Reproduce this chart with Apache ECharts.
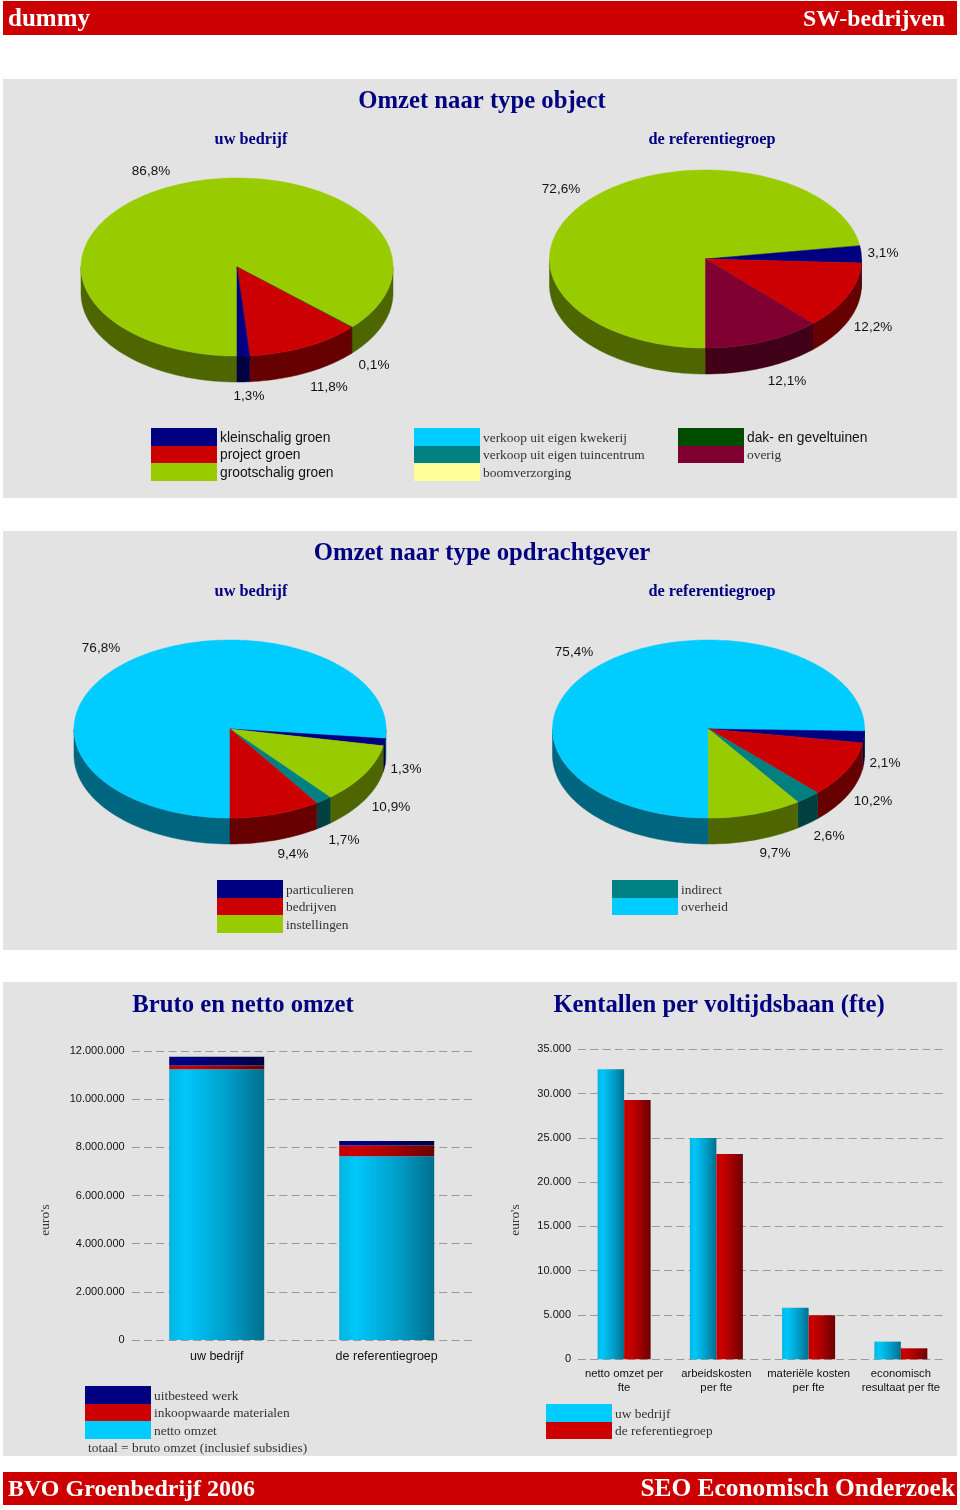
<!DOCTYPE html>
<html>
<head>
<meta charset="utf-8">
<style>html,body{margin:0;padding:0;background:#fff}#c{width:960px;height:1510px}</style>
<script src="https://cdn.jsdelivr.net/npm/echarts@6/dist/echarts.min.js"></script>
</head>
<body>
<div id="c"></div>
<script>
// ---- colours by legend entry
const NAVY='#000080', RED='#CC0000', GREEN='#99CC00', CYAN='#00CCFF', TEAL='#008080',
      YELLOW='#FFFF99', DKGREEN='#004D00', WINE='#7F0030';

// ---- pie data (clockwise from six o'clock)
const objectOwnValues=[86.8,0.1,11.8,1.3];
const objectOwnColors=[GREEN,DKGREEN,RED,NAVY];
const objectRefValues=[72.6,3.1,12.2,12.1];
const objectRefColors=[GREEN,NAVY,RED,WINE];
const clientOwnValues=[76.8,1.3,10.9,1.7,9.4];
const clientOwnColors=[CYAN,NAVY,GREEN,TEAL,RED];
const clientRefValues=[75.4,2.1,10.2,2.6,9.7];
const clientRefColors=[CYAN,NAVY,RED,TEAL,GREEN];

// ---- bar data
const revenueCategories=['uw bedrijf','de referentiegroep'];
const revenueNet=[11240000,7630000];
const revenueMaterials=[160000,450000];
const revenueOutsourced=[360000,180000];
const fteCategories=['netto omzet per\nfte','arbeidskosten\nper fte','materiële kosten\nper fte','economisch\nresultaat per fte'];
const fteOwn=[32740,24990,5830,1995];
const fteRef=[29280,23180,4970,1240];

// ---- layout of pies and their value labels (label centres, in page pixels)
const PIE_RX=156, PIE_RY=89, PIE_DEPTH=26;
const pies=[
 {values:objectOwnValues,colors:objectOwnColors,cx:237,cy:267,labels:[[151,171],[374,365],[329,387],[249,396]]},
 {values:objectRefValues,colors:objectRefColors,cx:705.5,cy:259,labels:[[561,189],[883,253],[873,327],[787,381]]},
 {values:clientOwnValues,colors:clientOwnColors,cx:230,cy:729,labels:[[101,648],[406,769],[391,807],[344,840],[293,854]]},
 {values:clientRefValues,colors:clientRefColors,cx:708.5,cy:729,labels:[[574,652],[885,763],[873,801],[829,836],[775,853]]}
];

const SANS='"Liberation Sans",Arial,sans-serif', SERIF='"Liberation Serif",Georgia,serif';

function shade(hex){
  const n=parseInt(hex.slice(1),16);
  const h=v=>('0'+Math.round(v/2).toString(16)).slice(-2);
  return '#'+h(n>>16&255)+h(n>>8&255)+h(n&255);
}
function pieSeries(p,i){
  let cum=0;
  const data=p.values.map(v=>{const row=[v,cum];cum+=v;return row;});
  const total=cum;
  return {
    type:'custom',coordinateSystem:'cartesian2d',xAxisIndex:i,yAxisIndex:i,clip:false,silent:true,
    data:data,
    renderItem(params,api){
      const k=params.dataIndex, val=api.value(0), start=api.value(1);
      const a=start/total*2*Math.PI, b=(start+val)/total*2*Math.PI;
      const pt=t=>api.coord([-Math.sin(t),-Math.cos(t)]);
      const arc=(s,e)=>{const n=Math.max(2,Math.ceil((e-s)/0.02));const r=[];for(let j=0;j<=n;j++)r.push(pt(s+(e-s)*j/n));return r;};
      const color=p.colors[k], dark=shade(color);
      const children=[];
      [[0,Math.PI/2],[1.5*Math.PI,2*Math.PI]].forEach(([lo,hi])=>{
        const s=Math.max(a,lo), e=Math.min(b,hi);
        if(e>s){
          const top=arc(s,e);
          const bottom=top.map(q=>[q[0],q[1]+PIE_DEPTH]).reverse();
          children.push({type:'polygon',shape:{points:top.concat(bottom)},style:{fill:dark,stroke:dark,lineWidth:0.5}});
        }
      });
      children.push({type:'polygon',shape:{points:[api.coord([0,0])].concat(arc(a,b))},style:{fill:color,stroke:color,lineWidth:0.5}});
      const lab=p.labels[k];
      children.push({type:'text',style:{text:val.toFixed(1).replace('.',',')+'%',x:lab[0],y:lab[1],align:'center',verticalAlign:'middle',fill:'#111',font:'13.5px '+SANS}});
      return {type:'group',children};
    }
  };
}

// ---- text and legends drawn as page furniture
const g=[];
const rect=(x,y,w,h,fill)=>g.push({type:'rect',shape:{x,y,width:w,height:h},style:{fill},silent:true,z:0});
const txt=(s,x,y,font,fill,align)=>g.push({type:'text',x,y,style:{text:s,font,fill,align:align||'left',verticalAlign:'middle'},silent:true,z:5});
rect(3,1,954,34,RED); rect(3,1472,954,33,RED);
rect(3,79,954,419,'#E3E3E3'); rect(3,531,954,419,'#E3E3E3'); rect(3,982,954,474,'#E3E3E3');
const bar=s=>'bold '+s+'px '+SERIF, H1='bold 24.7px '+SERIF, H2='bold 16.3px '+SERIF;
txt('dummy',8,19.5,bar(25),'#fff'); txt('SW-bedrijven',945,19.5,bar(23.8),'#fff','right');
txt('BVO Groenbedrijf 2006',8,1489.5,bar(24),'#fff'); txt('SEO Economisch Onderzoek',955,1489.5,bar(25.4),'#fff','right');
txt('Omzet naar type object',482,101.5,H1,NAVY,'center');
txt('Omzet naar type opdrachtgever',482,553.5,H1,NAVY,'center');
txt('Bruto en netto omzet',243,1005.5,H1,NAVY,'center');
txt('Kentallen per voltijdsbaan (fte)',719,1005.5,H1,NAVY,'center');
[140,592].forEach(y=>{txt('uw bedrijf',251,y,H2,NAVY,'center');txt('de referentiegroep',712,y,H2,NAVY,'center');});

const LSANS='13.8px '+SANS, LSERIF='13.4px '+SERIF, INK='#333';
function legend(x,y,entries){
  entries.forEach((e,i)=>{
    const y0=Math.round(y+i*17.5);
    rect(x,y0,66,Math.round(y+(i+1)*17.5)-y0,e[1]);
    txt(e[0],x+69,y+i*17.5+10,e[2]?LSANS:LSERIF,e[2]?'#111':INK);
  });
}
legend(151,428,[['kleinschalig groen',NAVY,1],['project groen',RED,1],['grootschalig groen',GREEN,1]]);
legend(414,428,[['verkoop uit eigen kwekerij',CYAN],['verkoop uit eigen tuincentrum',TEAL],['boomverzorging',YELLOW]]);
legend(678,428,[['dak- en geveltuinen',DKGREEN,1],['overig',WINE]]);
legend(217,880,[['particulieren',NAVY],['bedrijven',RED],['instellingen',GREEN]]);
legend(612,880,[['indirect',TEAL],['overheid',CYAN]]);
legend(85,1386,[['uitbesteed werk',NAVY],['inkoopwaarde materialen',RED],['netto omzet',CYAN]]);
txt('totaal = bruto omzet (inclusief subsidies)',88,1448,LSERIF,INK);
legend(546,1404,[['uw bedrijf',CYAN],['de referentiegroep',RED]]);
[[45,1220],[515,1220]].forEach(q=>g.push({type:'text',x:q[0],y:q[1],rotation:Math.PI/2,style:{text:"euro's",font:LSERIF,fill:INK,align:'center',verticalAlign:'middle'},silent:true,z:5}));

// ---- bars
const shadeBar=(c0,c1,c2,c3)=>({type:'linear',x:0,y:0,x2:1,y2:0,colorStops:[{offset:0,color:c0},{offset:.17,color:c1},{offset:.6,color:c2},{offset:1,color:c3}]});
const cyanBar=shadeBar('#00B4E0','#00C8FA','#009FCB','#006F8D');
const redBar=shadeBar('#BB0000','#CC0000','#A00000','#6A0000');
const navyBar=shadeBar('#000078','#000080','#000062','#000040');
const dots=v=>String(v).replace(/\B(?=(\d{3})+$)/g,'.');
const grid=[];
const xAxis=[],yAxis=[];
pies.forEach(p=>{
  grid.push({left:p.cx-PIE_RX,top:p.cy-PIE_RY,width:2*PIE_RX,height:2*PIE_RY,show:false});
  const ax=()=>({type:'value',min:-1,max:1,show:false,gridIndex:grid.length-1});
  xAxis.push(ax());yAxis.push(ax());
});
function barAxes(cats,max,step,margin,lineH,labelSize){
  const idx=grid.length-1;
  xAxis.push({type:'category',gridIndex:idx,data:cats,axisLine:{show:false},axisTick:{show:false},
    axisLabel:{interval:0,margin,fontFamily:SANS,fontSize:labelSize,color:'#111',lineHeight:lineH}});
  yAxis.push({type:'value',gridIndex:idx,min:0,max,interval:step,axisLine:{show:false},axisTick:{show:false},
    axisLabel:{margin:7,fontFamily:SANS,fontSize:11,color:'#111',padding:[2,0,0,0],formatter:dots},
    splitLine:{show:true,lineStyle:{color:'#9a9a9a',width:1,type:[8,4.3]}}});
}
grid.push({left:131.7,top:1051,width:340,height:289,show:false});
barAxes(revenueCategories,12000000,2000000,10,14,12.5);
const gi1=grid.length-1;
grid.push({left:578,top:1049.3,width:369,height:310,show:false});
barAxes(fteCategories,35000,5000,8,14,11.3);
const gi2=grid.length-1;

const series=pies.map(pieSeries);
[[revenueNet,cyanBar],[revenueMaterials,redBar],[revenueOutsourced,navyBar]].forEach(s=>series.push({
  type:'bar',xAxisIndex:gi1,yAxisIndex:gi1,stack:'bruto',barWidth:95,data:s[0],itemStyle:{color:s[1]},silent:true,z:3}));
[[fteOwn,cyanBar],[fteRef,redBar]].forEach(s=>series.push({
  type:'bar',xAxisIndex:gi2,yAxisIndex:gi2,barWidth:26.5,barGap:0,data:s[0],itemStyle:{color:s[1]},silent:true,z:3}));

const chart=echarts.init(document.getElementById('c'),null,{renderer:'canvas'});
chart.setOption({animation:false,backgroundColor:'#fff',grid,xAxis,yAxis,series,graphic:{elements:g.map(e=>Object.assign({},e,{z:e.z>1?e.z:-1}))}});
</script>
</body>
</html>
